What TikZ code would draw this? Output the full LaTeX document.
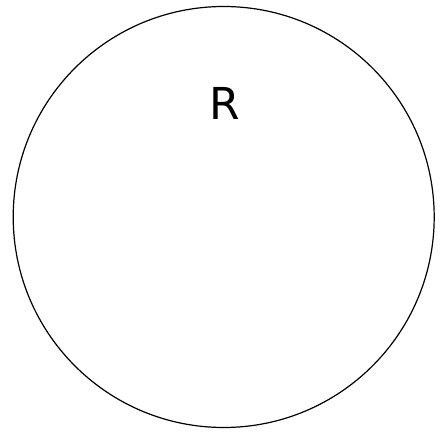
\documentclass[tikz,border=0pt]{standalone}
\usepackage{fontspec}
\setmainfont{DejaVu Sans}
\begin{document}
\begin{tikzpicture}[x=1pt,y=-1pt,
  ring/.style={draw=black, line width=1.2pt, circle, minimum size=421pt, inner sep=0pt},
  lbl/.style={font=\fontsize{44}{46}\selectfont, inner sep=0pt}]
\useasboundingbox (0,0) rectangle (444,433);
\node[ring] (c) at (223.7,217) {};
\node[lbl] (r) at (225,103.5) {R};
\end{tikzpicture}
\end{document}
